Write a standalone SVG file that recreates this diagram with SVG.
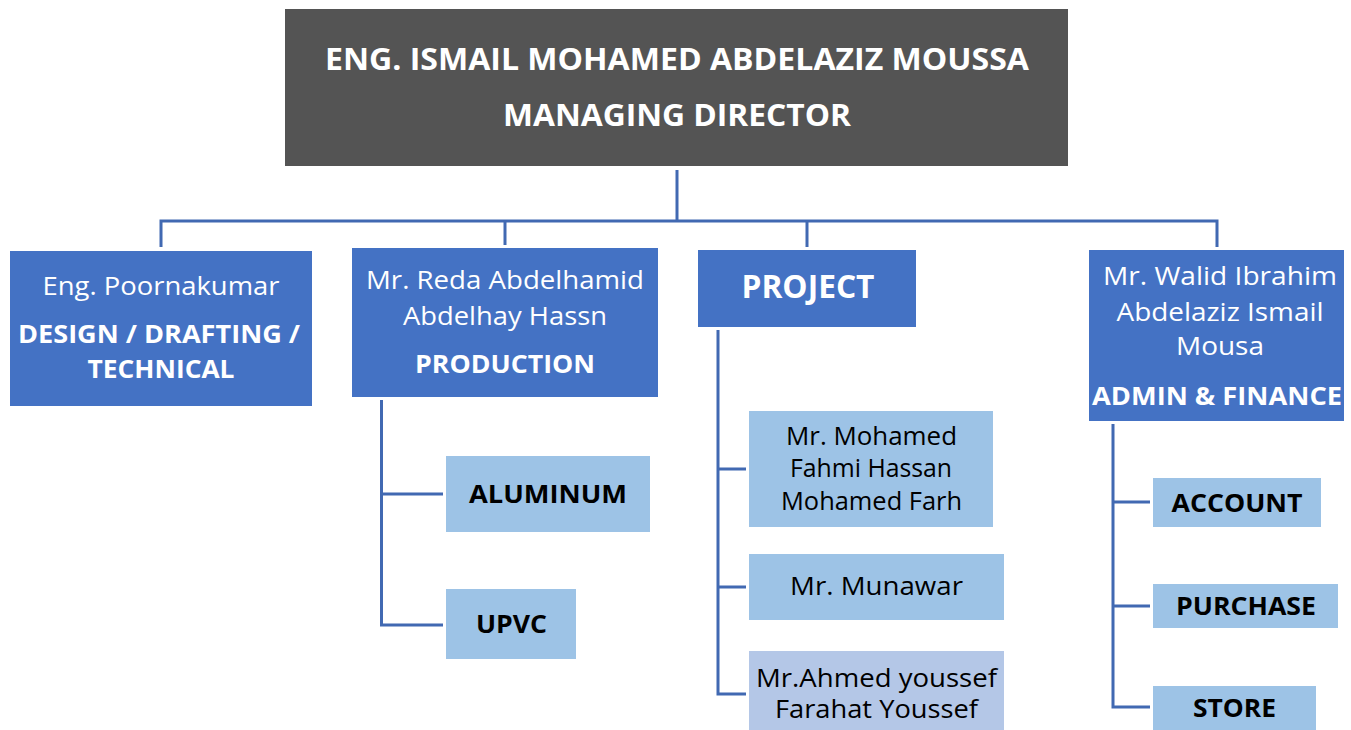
<svg xmlns="http://www.w3.org/2000/svg" width="1351" height="730" viewBox="0 0 1351 730">
<style>
.top{fill:#545454}
.l2{fill:#4472C4}
.l3{fill:#9DC3E6}
.l3b{fill:#B4C7E7}
text{font-family:"Open Sans","Noto Sans","Liberation Sans",sans-serif;text-anchor:middle}
.w{fill:#ffffff}
.k{fill:#000000}
.b{font-weight:bold}
.n{font-size:25px}
.conn{fill:none;stroke:#4169B2;stroke-width:3}
</style>
<rect width="1351" height="730" fill="#ffffff"/>
<g id="connectors" class="conn">
<path d="M677 170 V221"/>
<path d="M161 247 V221 H1217 V247"/>
<path d="M505 245 V220"/>
<path d="M807 247 V220"/>
<path d="M381.5 400 V625 H443 M381.5 494 H443"/>
<path d="M718 330 V694 H746 M718 469 H746 M718 587 H746"/>
<path d="M1113 424 V707 H1150 M1113 502 H1150 M1113 606 H1150"/>
</g>
<g id="md">
<rect class="top" x="285" y="9" width="783" height="157"/>
<text class="w b" x="677" y="70" font-size="31" textLength="704" lengthAdjust="spacingAndGlyphs">ENG. ISMAIL MOHAMED ABDELAZIZ MOUSSA</text>
<text class="w b" x="677" y="126" font-size="31" textLength="348" lengthAdjust="spacingAndGlyphs">MANAGING DIRECTOR</text>
</g>
<g id="design">
<rect class="l2" x="10" y="251" width="302" height="155"/>
<text class="w n" x="161" y="295" textLength="237" lengthAdjust="spacingAndGlyphs">Eng. Poornakumar</text>
<text class="w n b" x="159" y="343" textLength="282" lengthAdjust="spacingAndGlyphs">DESIGN / DRAFTING /</text>
<text class="w n b" x="161" y="378" textLength="147" lengthAdjust="spacingAndGlyphs">TECHNICAL</text>
</g>
<g id="production">
<rect class="l2" x="352" y="248" width="306" height="149"/>
<text class="w n" x="505" y="289" textLength="278" lengthAdjust="spacingAndGlyphs">Mr. Reda Abdelhamid</text>
<text class="w n" x="505" y="325" textLength="204" lengthAdjust="spacingAndGlyphs">Abdelhay Hassn</text>
<text class="w n b" x="505" y="373" textLength="180" lengthAdjust="spacingAndGlyphs">PRODUCTION</text>
</g>
<g id="project">
<rect class="l2" x="698" y="250" width="218" height="77"/>
<text class="w b" x="808" y="298" font-size="32" textLength="133" lengthAdjust="spacingAndGlyphs">PROJECT</text>
</g>
<g id="admin">
<rect class="l2" x="1089" y="250" width="255" height="171"/>
<text class="w n" x="1220" y="285" textLength="234" lengthAdjust="spacingAndGlyphs">Mr. Walid Ibrahim</text>
<text class="w n" x="1220" y="321" textLength="207" lengthAdjust="spacingAndGlyphs">Abdelaziz Ismail</text>
<text class="w n" x="1220" y="355" textLength="88" lengthAdjust="spacingAndGlyphs">Mousa</text>
<text class="w n b" x="1217" y="405" textLength="250" lengthAdjust="spacingAndGlyphs">ADMIN &amp; FINANCE</text>
</g>
<g id="aluminum">
<rect class="l3" x="446" y="456" width="204" height="76"/>
<text class="k n b" x="548" y="503" textLength="158" lengthAdjust="spacingAndGlyphs">ALUMINUM</text>
</g>
<g id="upvc">
<rect class="l3" x="446" y="589" width="130" height="70"/>
<text class="k n b" x="511.5" y="633" textLength="71" lengthAdjust="spacingAndGlyphs">UPVC</text>
</g>
<g id="mohamed">
<rect class="l3" x="749" y="411" width="244" height="116"/>
<text class="k n" x="871.5" y="445" textLength="171" lengthAdjust="spacingAndGlyphs">Mr. Mohamed</text>
<text class="k n" x="871" y="477" textLength="162" lengthAdjust="spacingAndGlyphs">Fahmi Hassan</text>
<text class="k n" x="871.5" y="510" textLength="181" lengthAdjust="spacingAndGlyphs">Mohamed Farh</text>
</g>
<g id="munawar">
<rect class="l3" x="749" y="554" width="255" height="66"/>
<text class="k n" x="876.5" y="595" textLength="173" lengthAdjust="spacingAndGlyphs">Mr. Munawar</text>
</g>
<g id="ahmed">
<rect class="l3b" x="749" y="651" width="255" height="79"/>
<text class="k n" x="876.5" y="687" textLength="241" lengthAdjust="spacingAndGlyphs">Mr.Ahmed youssef</text>
<text class="k n" x="876.5" y="718" textLength="203" lengthAdjust="spacingAndGlyphs">Farahat Youssef</text>
</g>
<g id="account">
<rect class="l3" x="1153" y="478" width="168" height="49"/>
<text class="k n b" x="1237" y="512" textLength="131" lengthAdjust="spacingAndGlyphs">ACCOUNT</text>
</g>
<g id="purchase">
<rect class="l3" x="1153" y="584" width="185" height="44"/>
<text class="k n b" x="1246" y="615" textLength="140" lengthAdjust="spacingAndGlyphs">PURCHASE</text>
</g>
<g id="store">
<rect class="l3" x="1153" y="686" width="163" height="44"/>
<text class="k n b" x="1234.5" y="717" textLength="83" lengthAdjust="spacingAndGlyphs">STORE</text>
</g>
</svg>
